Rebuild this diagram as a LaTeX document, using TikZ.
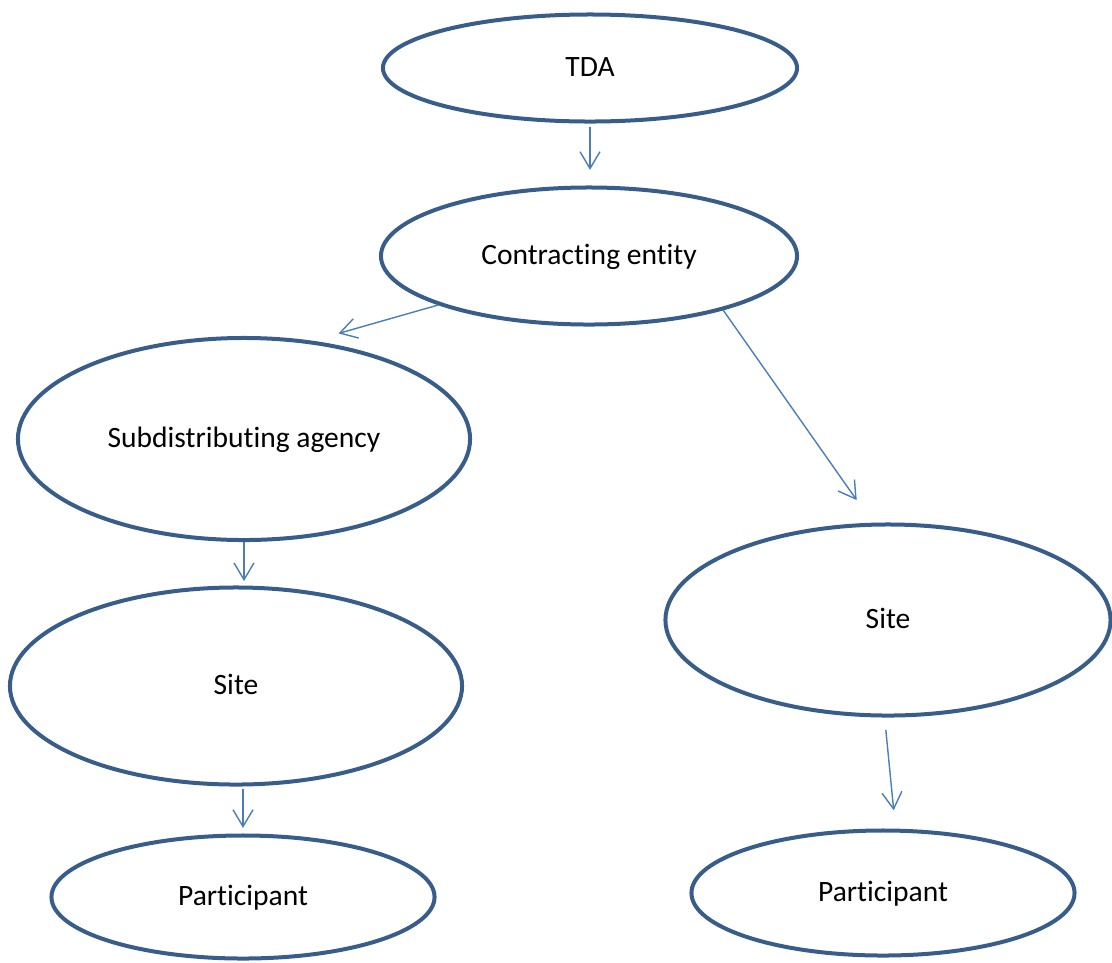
\documentclass[tikz,border=0pt]{standalone}
\usepackage{fontspec}
\setmainfont{Carlito}[Ligatures=NoCommon]
\usetikzlibrary{shapes.geometric,arrows.meta}
\definecolor{rimblue}{HTML}{385D8A}
\definecolor{linkblue}{HTML}{4A7EBB}
\begin{document}
\begin{tikzpicture}[x=0.025cm,y=-0.025cm,
  every node/.style={font=\fontsize{21}{25}\selectfont},
  bubble/.style={ellipse,draw=rimblue,line width=0.1cm,inner sep=0pt,text height=15.5pt,text depth=3.7pt},
  link/.style={draw=linkblue,line width=0.035cm,-{Straight Barb[length=0.42cm,width=0.5cm]}}]
\useasboundingbox (0,0) rectangle (1112,962);
% nodes
\node[bubble,minimum width=10.35cm,minimum height=2.675cm] (tda) at (590,68) {TDA};
\node[bubble,minimum width=10.4cm,minimum height=3.425cm] (ce) at (589,256) {Contracting entity};
\node[bubble,minimum width=11.3cm,minimum height=5.05cm] (sub) at (244,439) {Subdistributing agency};
\node[bubble,minimum width=11.3cm,minimum height=4.925cm] (siteL) at (236,686) {Site};
\node[bubble,minimum width=9.575cm,minimum height=3.075cm] (partL) at (243,897) {Participant};
\node[bubble,minimum width=11.125cm,minimum height=4.775cm] (siteR) at (888,620) {Site};
\node[bubble,minimum width=9.575cm,minimum height=3.125cm] (partR) at (883,893) {Participant};
% arrows
\draw[link,shorten <=0.09cm,shorten >=0.39cm] (tda.south) -- (tda.south |- ce.north);
\draw[link,shorten >=0.67cm] (ce.198) -- (sub.55);
\draw[link,shorten >=0.69cm] (ce.338) -- (siteR.99);
\draw[link,shorten >=0.11cm] (sub.south) -- (sub.south |- siteL.north);
\draw[link,shorten <=0.06cm,shorten >=0.14cm] (siteL.south -| partL.north) -- (partL.north);
\draw[link,shorten <=0.31cm,shorten >=0.46cm] (siteR.268) -- (partR.79);
\end{tikzpicture}
\end{document}
